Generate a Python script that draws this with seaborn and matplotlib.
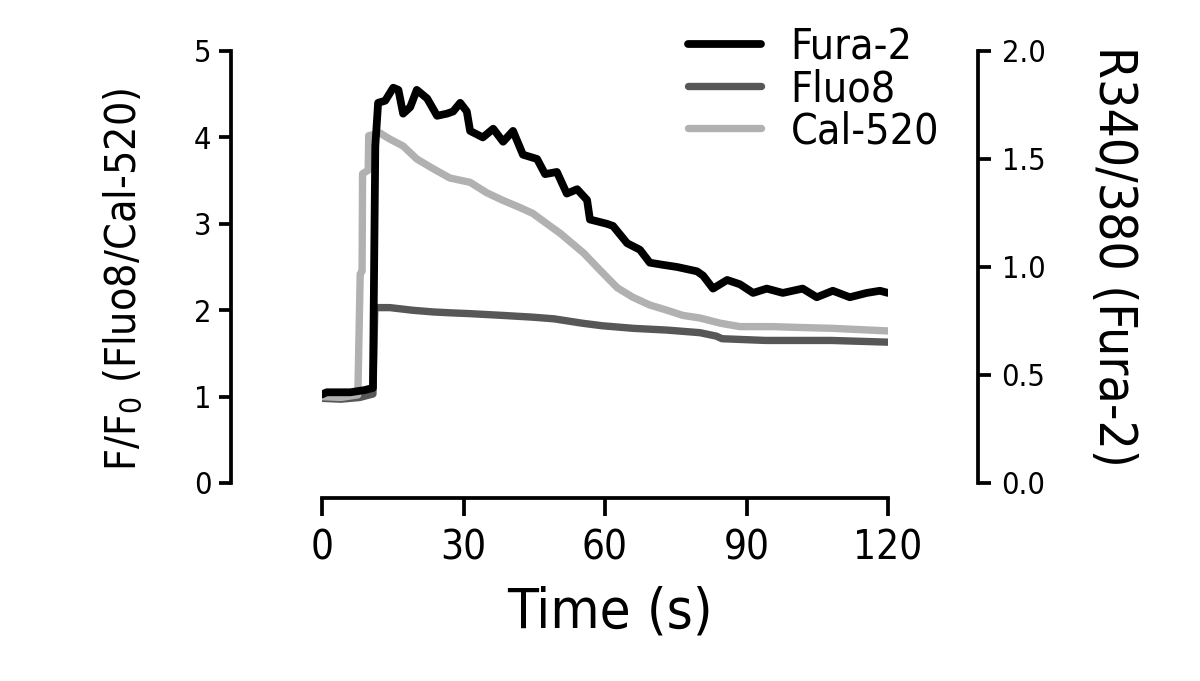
import matplotlib
matplotlib.use("Agg")
import matplotlib.pyplot as plt
from matplotlib import font_manager
import seaborn as sns

# Fura-2 ratio R340/380 (right axis)
fura2_t = [0, 1, 3, 6, 9, 10.8, 11.3, 11.9, 13.4, 15.1, 16.2, 17.2, 18.7, 20.1, 22.3,
           24.4, 26.5, 27.8, 29.3, 30.7, 31.4, 34.1, 36.3, 38.4, 40.5, 42.6, 45.6, 47.3,
           49.8, 51.9, 54.1, 56.2, 56.8, 60.4, 61.7, 64.7, 67.4, 69.5, 72.3, 75.3, 79.5,
           80.8, 82.9, 85.9, 88.6, 91.4, 94.3, 97.7, 101.9, 104.9, 108.3, 111.9, 115.5,
           118.3, 120]
fura2_r = [0.41, 0.42, 0.42, 0.42, 0.43, 0.44, 1.56, 1.76, 1.77, 1.83, 1.82, 1.71, 1.74,
           1.82, 1.78, 1.70, 1.71, 1.72, 1.76, 1.72, 1.63, 1.60, 1.64, 1.58, 1.63, 1.52,
           1.50, 1.43, 1.44, 1.34, 1.36, 1.31, 1.22, 1.20, 1.19, 1.11, 1.08, 1.02, 1.01,
           1.00, 0.98, 0.96, 0.90, 0.94, 0.92, 0.88, 0.90, 0.88, 0.90, 0.86, 0.89, 0.86,
           0.88, 0.89, 0.88]

# Fluo8 F/F0 (left axis)
fluo8_t = [0, 4, 8, 10.8, 11.2, 14.4, 19.1, 23.5, 27.1, 31.4, 38.2, 44.5, 49.2, 55.1,
           59.4, 66.0, 73.1, 80.1, 83.6, 84.8, 94.0, 108.0, 120]
fluo8_f = [0.98, 0.97, 0.99, 1.03, 2.03, 2.03, 2.00, 1.98, 1.97, 1.96, 1.94, 1.92, 1.90,
           1.85, 1.82, 1.79, 1.77, 1.74, 1.70, 1.67, 1.65, 1.65, 1.63]

# Cal-520 F/F0 (left axis)
cal520_t = [0, 4, 7.6, 8.1, 8.5, 8.6, 9.8, 9.9, 12.3, 14.4, 17.2, 20.1, 23.5, 27.1, 31.4,
            34.9, 38.4, 41.9, 44.7, 47.7, 50.5, 55.5, 59.0, 62.6, 65.9, 69.5, 73.1, 76.5,
            80.1, 84.4, 88.6, 95.6, 101.3, 108.3, 120]
cal520_f = [1.00, 0.99, 1.02, 2.42, 2.45, 3.58, 3.62, 4.02, 4.05, 3.98, 3.90, 3.75, 3.64,
            3.53, 3.48, 3.36, 3.27, 3.19, 3.12, 3.00, 2.89, 2.66, 2.46, 2.26, 2.15, 2.06,
            2.00, 1.94, 1.91, 1.85, 1.81, 1.81, 1.80, 1.79, 1.76]

x_ticks = [0, 30, 60, 90, 120]
left_ticks = [0, 1, 2, 3, 4, 5]
right_ticks = [0.0, 0.5, 1.0, 1.5, 2.0]
labels = ["Fura-2", "Fluo8", "Cal-520"]

COLORS = {"Fura-2": "#000000", "Fluo8": "#575757", "Cal-520": "#b1b1b1"}

sns.set_theme(style="ticks")
fonts = font_manager.fontManager.ttflist
names = {f.name for f in fonts}
if "Liberation Sans Narrow" in names:
    plt.rcParams["font.family"] = ["Liberation Sans Narrow", "DejaVu Sans"]
    k = 1.0
else:
    plt.rcParams["font.family"] = ["DejaVu Sans"]
    k = 0.8
    if any(f.name == "DejaVu Sans" and "condensed" in str(f.stretch) for f in fonts):
        plt.rcParams["font.stretch"] = "condensed"
        k = 0.88
plt.rcParams["axes.unicode_minus"] = False
for key in ["text.color", "axes.labelcolor", "xtick.color", "ytick.color"]:
    plt.rcParams[key] = "black"

fig = plt.figure(figsize=(12, 6.81), dpi=100)
ax = fig.add_axes([322 / 1200, 198 / 681, 566 / 1200, 432 / 681])
ax2 = ax.twinx()

# grey traces on the left axis
sns.lineplot(x=fluo8_t, y=fluo8_f, ax=ax, color=COLORS["Fluo8"], linewidth=5.3,
             estimator=None, sort=False, legend=False)
sns.lineplot(x=cal520_t, y=cal520_f, ax=ax, color=COLORS["Cal-520"], linewidth=5.3,
             estimator=None, sort=False, legend=False)
# black trace on the right axis
sns.lineplot(x=fura2_t, y=fura2_r, ax=ax2, color=COLORS["Fura-2"], linewidth=5.6,
             estimator=None, sort=False, legend=False)

ax.set_xlim(0, 120)
ax.set_ylim(0, 5)
ax2.set_ylim(0, 2)

# detached axes, offsets in points (px * 0.72)
lw = 2.7
for s in ["top", "right"]:
    ax.spines[s].set_visible(False)
for s in ["top", "left", "bottom"]:
    ax2.spines[s].set_visible(False)
ax.spines["left"].set_position(("outward", 65.5))
ax.spines["bottom"].set_position(("outward", 10.8))
ax2.spines["right"].set_position(("outward", 64.8))
for sp in [ax.spines["left"], ax.spines["bottom"], ax2.spines["right"]]:
    sp.set_linewidth(lw)
    sp.set_color("black")

ax.set_xticks(x_ticks)
ax.set_xticklabels([str(v) for v in x_ticks])
ax.set_yticks(left_ticks)
ax.set_yticklabels([str(v) for v in left_ticks])
ax2.set_yticks(right_ticks)
ax2.set_yticklabels([f"{v:.1f}" for v in right_ticks])

ax.tick_params(axis="x", length=13, width=lw, pad=9, labelsize=33 * k)
ax.tick_params(axis="y", length=9, width=lw, pad=5, labelsize=22)
ax2.tick_params(axis="y", length=9, width=lw, pad=8, labelsize=22)

ax.set_xlabel("Time (s)", fontsize=46 * k)
ax.xaxis.set_label_coords(0.509, -0.238)
ax.set_ylabel(r"F/F$_\mathregular{0}$ (Fluo8/Cal-520)", fontsize=35 * k)
ax.yaxis.set_label_coords(-0.313, 0.472)
ax2.set_ylabel("R340/380 (Fura-2)", fontsize=42 * k, rotation=270, va="bottom")
ax2.yaxis.set_label_coords(1.353, 0.525)

handles = [ax2.lines[0], ax.lines[0], ax.lines[1]]
ax2.legend(handles, labels, loc="upper left",
           bbox_to_anchor=(688 / 1200, 1 - 26 / 681), bbox_transform=fig.transFigure,
           frameon=False, fontsize=35 * k, handlelength=1.7, handletextpad=0.7,
           labelspacing=0.0, borderpad=0, borderaxespad=0)

fig.savefig("out.png", dpi=100)
